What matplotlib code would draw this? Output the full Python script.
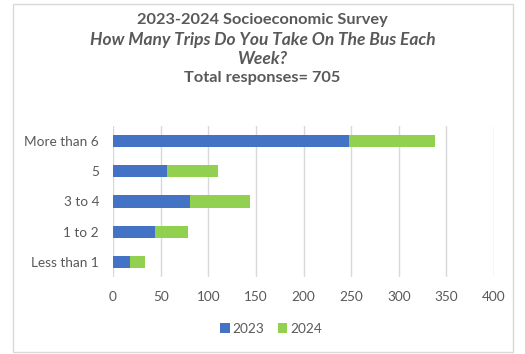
import matplotlib.pyplot as plt
from matplotlib.patches import Rectangle

# survey answers per year
categorias = ["Less than 1", "1 to 2", "3 to 4", "5", "More than 6"]
resp_2023 = [18, 44, 81, 57, 248]
resp_2024 = [16, 35, 63, 53, 90]
anios = ["2023", "2024"]
colores = ["#4472C4", "#92D050"]
gris = "#595959"

plt.rcParams['font.family'] = ['Lato', 'DejaVu Sans']

fig = plt.figure(figsize=(5.25, 3.54), dpi=100)
ax = fig.add_axes([113 / 525, 1 - 277 / 354, 381 / 525, 151 / 354])

# barras apiladas
b1 = ax.barh(categorias, resp_2023, height=0.4, color=colores[0], label=anios[0])
b2 = ax.barh(categorias, resp_2024, left=resp_2023, height=0.4, color=colores[1], label=anios[1])

ax.set_xlim(0, 400)
ax.set_ylim(-0.5, 4.5)
ax.set_xticks(range(0, 401, 50))
ax.grid(axis='x', color='#d9d9d9', linewidth=1)
ax.set_axisbelow(True)
for s in ax.spines.values():
    s.set_visible(False)
ax.tick_params(length=0, labelsize=9.8, labelcolor=gris)
ax.tick_params(axis='x', pad=10)
ax.tick_params(axis='y', pad=10)

# titulo
fig.text(0.5, 1 - 20 / 354, "2023-2024 Socioeconomic Survey", ha='center', va='center',
         fontsize=11.8, fontweight='bold', color=gris)
fig.text(0.5, 1 - 40 / 354, "How Many Trips Do You Take On The Bus Each", ha='center', va='center',
         fontsize=12.5, fontweight='bold', fontstyle='italic', color=gris)
fig.text(0.5, 1 - 59 / 354, "Week?", ha='center', va='center',
         fontsize=12.5, fontweight='bold', fontstyle='italic', color=gris)
fig.text(0.5, 1 - 78 / 354, "Total responses= 705", ha='center', va='center',
         fontsize=11.8, fontweight='bold', color=gris)

fig.legend(handles=[b1, b2], loc='center', bbox_to_anchor=(271 / 525, 1 - 329 / 354), ncol=2,
           frameon=False, fontsize=9.8, labelcolor=gris, handlelength=0.7, handleheight=0.7,
           handletextpad=0.2, columnspacing=1.0)

# borde del grafico
fig.patches.append(Rectangle((13 / 525, 1 - 352 / 354), 500 / 525, 348 / 354, transform=fig.transFigure,
                             fill=False, edgecolor='#d9d9d9', linewidth=1))

fig.savefig("out.png", dpi=100)
